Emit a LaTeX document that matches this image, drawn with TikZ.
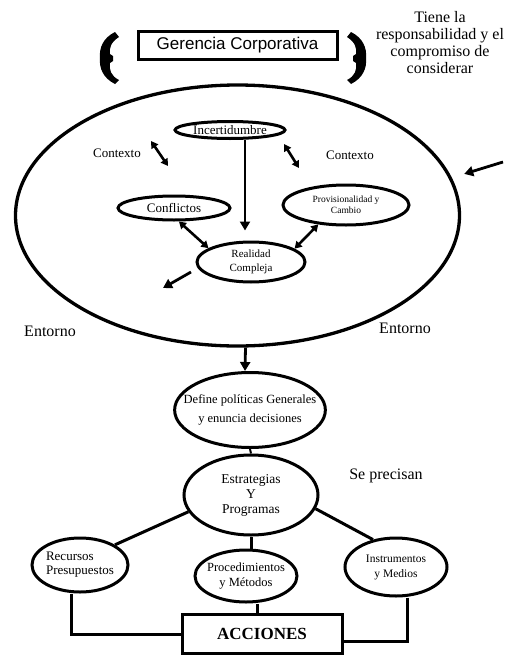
\documentclass[tikz,border=0pt]{standalone}
\usepackage{fontspec}
\setmainfont{Liberation Serif}
\newfontfamily\arialfont{Liberation Sans}
\usetikzlibrary{shapes.geometric,arrows.meta}
\newcommand{\tam}[2]{\fontsize{#1}{#2}\selectfont}

\begin{document}
\begin{tikzpicture}[
            x = 1pt, y = -1pt,
            every node/.style={align=center},
            elip/.style={ellipse, draw, line width = 3pt, inner sep=0pt},
            caja/.style={draw, line width = 3pt, inner sep=0pt},
            linea/.style={line width = 3pt},
            flecha/.style={line width = 2.8pt, -{Triangle[length=9pt, width=10pt]}},
            dflecha/.style={line width = 2.6pt, {Triangle[length=7pt, width=8pt]}-{Triangle[length=7pt, width=8pt]}},
            gancho/.pic={\fill (6,-26) -- (10,-21) .. controls (2,-16) and (0,-10) .. (1,-4) -- (4,-2) -- (4,3) -- (1,5) .. controls (0,12) and (2,18) .. (10,22) -- (6,26) .. controls (-6,20) and (-10,10) .. (-9,0) .. controls (-10,-10) and (-6,-20) .. (6,-26) -- cycle;},
            ]
        \useasboundingbox (0,0) rectangle (518,656);
        % arriba
        \node[caja, minimum width=199pt, minimum height=28pt, font=\arialfont\tam{17}{20}] (gerencia) at (237.5,45) {Gerencia Corporativa};
        \pic at (109,58) {gancho};
        \pic[xscale=-1] at (357,58) {gancho};
        \node[font=\tam{16}{17}] (tiene) at (440,43) {Tiene la\\responsabilidad y el\\compromiso de\\considerar};

        % entorno
        \node[elip, line width = 3.3pt, minimum width=444pt, minimum height=261pt] (entorno) at (237.5,215.5) {};
        \node[elip, minimum width=110pt, minimum height=17pt, font=\tam{13}{15}] (incert) at (230,130) {Incertidumbre};
        \node[elip, minimum width=112pt, minimum height=24pt, font=\tam{13}{15}] (conflic) at (174,208) {Conflictos};
        \node[elip, minimum width=126pt, minimum height=40pt, font=\tam{9.5}{11}] (provis) at (346,205) {Provisionalidad y\\Cambio};
        \node[elip, minimum width=108pt, minimum height=40pt, font=\tam{11}{14}] (realidad) at (251,262) {Realidad\\Compleja};
        \node[font=\tam{13}{15}] (ctxizq) at (117,153) {Contexto};
        \node[font=\tam{13}{15}] (ctxder) at (350,155) {Contexto};
        \node[font=\tam{16}{18}] (entizq) at (50,331) {Entorno};
        \node[font=\tam{16}{18}] (entder) at (405,328) {Entorno};
        \coordinate (ctxA1) at (151,141);
        \coordinate (ctxA2) at (168,166);
        \coordinate (ctxB1) at (284,144);
        \coordinate (ctxB2) at (299,168);
        \coordinate (ext) at (503,162);
        \coordinate (sal1) at (191,272);
        \coordinate (sal2) at (163,288);

        \draw[flecha, shorten >=10pt] ([xshift=15pt]incert.south) -- ([xshift=15pt]incert.south |- realidad.north);
        \draw[dflecha] (conflic.-70) -- (realidad.162);
        \draw[dflecha] (provis.215) -- (realidad.17);
        \draw[dflecha] (ctxA1) -- (ctxA2);
        \draw[dflecha] (ctxB1) -- (ctxB2);
        \draw[flecha, shorten >=13pt] (ext) -- (entorno.10);
        \draw[flecha] (sal1) -- (sal2);

        % abajo
        \node[elip, minimum width=150pt, minimum height=75pt, inner xsep=-13pt, font=\tam{12.5}{19}] (define) at (250,410) {Define políticas Generales\\y enuncia decisiones};
        \node[elip, minimum width=134pt, minimum height=80pt, font=\tam{13.5}{15}] (estrat) at (251,495) {Estrategias\\Y\\Programas};
        \node[font=\tam{16}{18}] (precisan) at (386,476) {Se precisan};
        \node[elip, minimum width=96pt, minimum height=54pt, font=\tam{13}{14}, align=left] (recursos) at (80,565) {Recursos\\Presupuestos};
        \node[elip, minimum width=102pt, minimum height=52pt, inner xsep=-4pt, font=\tam{12.5}{15}] (proced) at (246,576) {Procedimientos\\y Métodos};
        \node[elip, minimum width=102pt, minimum height=58pt, font=\tam{11.5}{15}] (instr) at (396,567) {Instrumentos\\y Medios};
        \node[caja, minimum width=160pt, minimum height=39pt, font=\bfseries\tam{17}{20}] (acciones) at (262,634) {ACCIONES};

        \draw[flecha] ([xshift=8pt]entorno.south) -- ([xshift=-5pt]define.north);
        \draw[line width=2pt] (define.south) -- (estrat.north);
        \draw[linea] (estrat.195) -- (recursos.30);
        \draw[linea] (estrat.south) -- (estrat.south |- proced.north);
        \draw[linea] (estrat.-12) -- (instr.130);
        \draw[linea] ([xshift=-9pt]recursos.south) |- (acciones.west);
        \draw[linea] ([xshift=-5pt]acciones.north) -- ([xshift=-5pt]acciones.north |- proced.south);
        \draw[linea] ([xshift=11pt]instr.south) |- ([yshift=-7pt]acciones.east);
    \end{tikzpicture}
\end{document}
